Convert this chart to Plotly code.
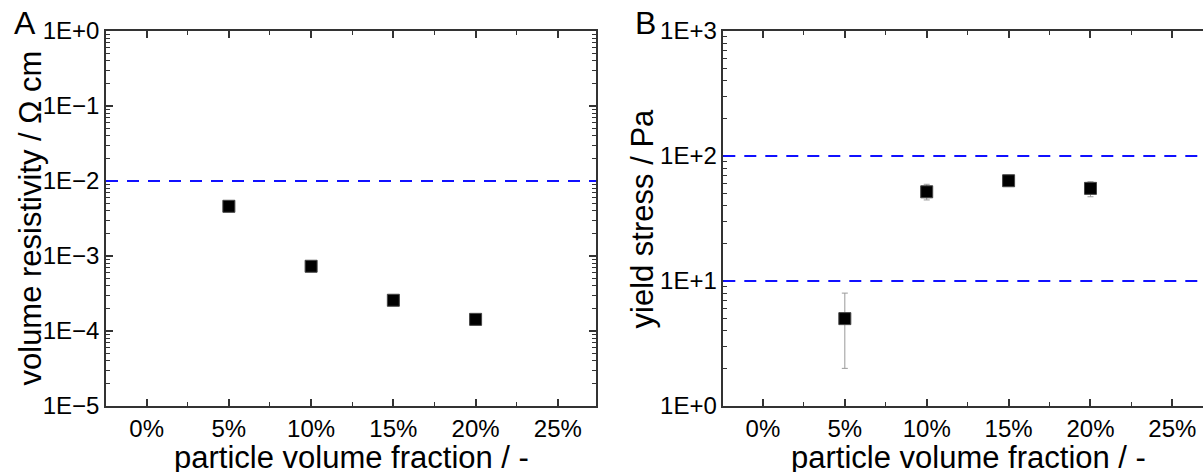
import plotly.graph_objects as go

# ---------------- data ----------------
fractions = [5, 10, 15, 20]                       # particle volume fraction (%)
resistivity = [4.6e-3, 7.3e-4, 2.57e-4, 1.43e-4]  # Ohm cm
yield_stress = [5.0, 51.7, 63.4, 55.1]            # Pa
yield_err_plus = [3.0, 7.7, 1.5, 7.1]
yield_err_minus = [3.0, 7.2, 1.5, 7.9]

x_tick_vals = [0, 5, 10, 15, 20, 25]
x_tick_text = ["0%", "5%", "10%", "15%", "20%", "25%"]
res_tick_vals = [1e-5, 1e-4, 1e-3, 1e-2, 1e-1, 1e0]
res_tick_text = ["1E\u22125", "1E\u22124", "1E\u22123", "1E\u22122", "1E\u22121", "1E+0"]
ys_tick_vals = [1, 10, 100, 1000]
ys_tick_text = ["1E+0", "1E+1", "1E+2", "1E+3"]
res_limits = [1e-2]
ys_limits = [10, 100]

# ---------------- layout helpers ----------------
W, H = 1203, 472
FONT = "Liberation Sans, Arial, sans-serif"
AX = "#333333"
TICK_SIZE = 24


def px_x(p):
    return p / W


def px_y(p):
    return 1 - p / H


top, bottom = 31, 406
res_minor = [m * 10 ** e for e in range(-5, 0) for m in range(2, 10)]
ys_minor = [m * 10 ** e for e in range(0, 3) for m in range(2, 10)]

fig = go.Figure()

fig.add_trace(go.Scatter(
    x=fractions, y=resistivity, mode="markers", xaxis="x", yaxis="y",
    marker=dict(symbol="square", size=12, color="black", line=dict(color="#444", width=1)),
    showlegend=False))

fig.add_trace(go.Scatter(
    x=fractions, y=yield_stress, mode="markers", xaxis="x2", yaxis="y2",
    marker=dict(symbol="square", size=12, color="black", line=dict(color="#444", width=1)),
    error_y=dict(type="data", symmetric=False, array=yield_err_plus,
                 arrayminus=yield_err_minus, color="#9a9a9a", thickness=1, width=3),
    showlegend=False))

xaxis_common = dict(
    tickmode="array", tickvals=x_tick_vals, ticktext=x_tick_text,
    ticks="inside", ticklen=7, tickwidth=1.5, tickcolor=AX,
    minor=dict(dtick=2.5, tick0=0, ticks="inside", ticklen=4, tickwidth=1.2, tickcolor=AX),
    showline=True, linecolor=AX, linewidth=1.5, mirror="ticks",
    showgrid=False, zeroline=False,
    automargin=False,
)

fig.update_layout(
    width=W, height=H,
    margin=dict(l=0, r=0, t=0, b=0),
    paper_bgcolor="white", plot_bgcolor="white",
    xaxis=dict(xaxis_common, domain=[px_x(106), px_x(596)], range=[-2.47, 27.32], anchor="y"),
    xaxis2=dict(xaxis_common, domain=[px_x(723.3), 1.0], range=[-2.42, 26.87], anchor="y2"),
    yaxis=dict(type="log", domain=[px_y(bottom), px_y(top)], range=[-5, 0], anchor="x",
               tickmode="array", tickvals=res_tick_vals, ticktext=res_tick_text,
               ticks="inside", ticklen=7, tickwidth=1.5, tickcolor=AX,
               minor=dict(tickmode="array", tickvals=res_minor, ticks="inside", ticklen=4,
                          tickwidth=1.2, tickcolor=AX),
               showline=True, linecolor=AX, linewidth=1.5, mirror="ticks",
               showgrid=False, zeroline=False, automargin=False),
    yaxis2=dict(type="log", domain=[px_y(bottom), px_y(top)], range=[0, 3], anchor="x2",
                tickmode="array", tickvals=ys_tick_vals, ticktext=ys_tick_text,
                ticks="inside", ticklen=7, tickwidth=1.5, tickcolor=AX,
                minor=dict(tickmode="array", tickvals=ys_minor, ticks="inside", ticklen=4,
                           tickwidth=1.2, tickcolor=AX),
                showline=True, linecolor=AX, linewidth=1.5, mirror=False,
                showgrid=False, zeroline=False, automargin=False),
)
fig.update_xaxes(tickfont=dict(family=FONT, size=TICK_SIZE, color="black"))
fig.update_yaxes(tickfont=dict(family=FONT, size=TICK_SIZE, color="black"))

# dashed reference lines
for v in res_limits:
    fig.add_shape(type="line", xref="x domain", yref="y", x0=0, x1=1, y0=v, y1=v,
                  line=dict(color="#1010ff", width=2, dash="12px,9px"))
for v in ys_limits:
    fig.add_shape(type="line", xref="x2 domain", yref="y2", x0=0, x1=1, y0=v, y1=v,
                  line=dict(color="#1010ff", width=2, dash="12px,9px"))

title_font = dict(family=FONT, size=31, color="black")
annotations = [
    dict(text="volume resistivity / \u03a9 cm", x=px_x(30), y=px_y((top + bottom) / 2),
         textangle=-90),
    dict(text="yield stress / Pa", x=px_x(642), y=px_y((top + bottom) / 2), textangle=-90),
    dict(text="particle volume fraction / -", x=px_x(351), y=px_y(457)),
    dict(text="particle volume fraction / -", x=px_x(968), y=px_y(457)),
]
for a in annotations:
    fig.add_annotation(xref="paper", yref="paper", showarrow=False,
                       xanchor="center", yanchor="middle", font=title_font, **a)

for letter, xp in [("A", 12), ("B", 633)]:
    fig.add_annotation(text=letter, xref="paper", yref="paper", x=px_x(xp), y=px_y(23),
                       xanchor="left", yanchor="middle", showarrow=False,
                       font=dict(family=FONT, size=32, color="black"))

fig.write_html("out.html")
